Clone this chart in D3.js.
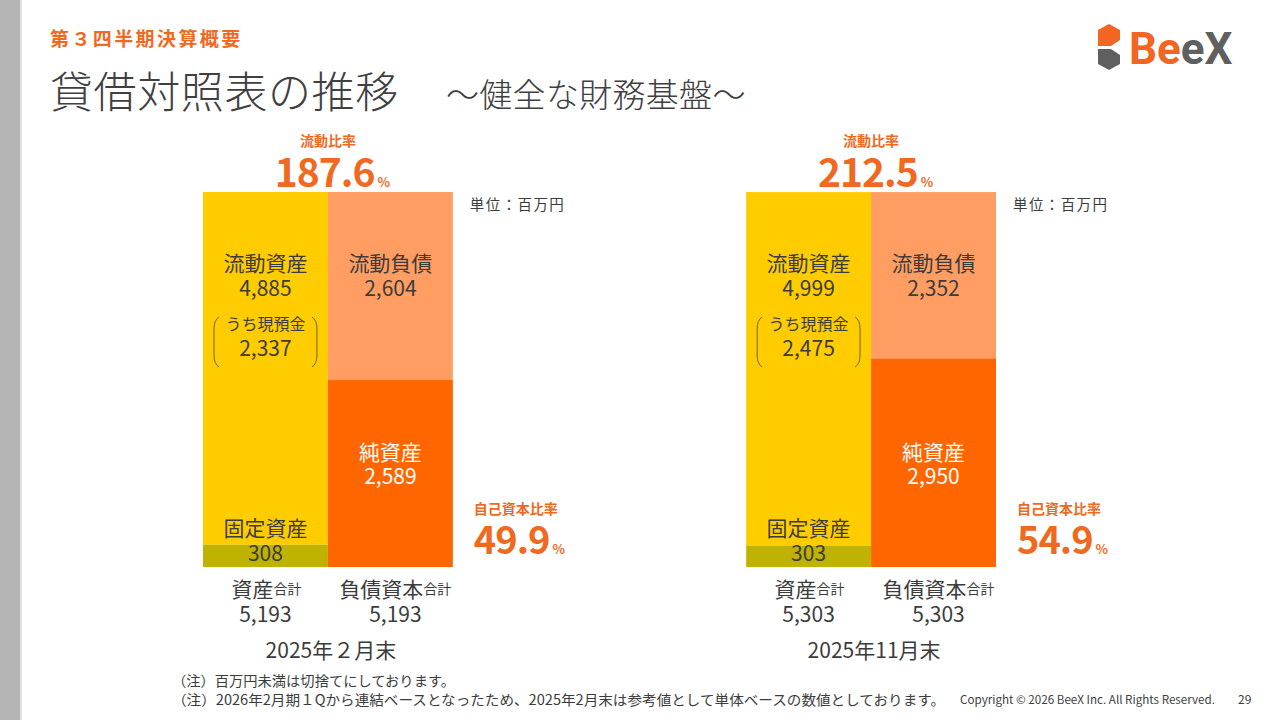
<!DOCTYPE html>
<html lang="ja">
<head>
<meta charset="utf-8">
<script src="https://cdn.jsdelivr.net/npm/d3@7/dist/d3.min.js"></script>
<style>
  html, body { margin: 0; padding: 0; background: #fff; }
  svg { display: block; font-family: "Noto Sans CJK JP", "Noto Sans", sans-serif; }
</style>
</head>
<body>
<svg id="chart" width="1280" height="720"></svg>
<script>
// data (millions of yen)
const periods = ["2025年２月末", "2025年11月末"];
const currentAssets = [4885, 4999];
const cashDeposits = [2337, 2475];
const fixedAssets = [308, 303];
const currentLiabilities = [2604, 2352];
const netAssets = [2589, 2950];
const totals = [5193, 5303];
const currentRatio = [187.6, 212.5];
const equityRatio = [49.9, 54.9];

const orange = "#F0691E";
const textDark = "#3c3c3c";
const colors = {
    current: "#FFCC00",
    fixed: "#BFB200",
    liab: "#FF9D63",
    net: "#FF6600"
};

const width = 1280;
const height = 720;
const barTop = 192;
const barBottom = 567;

const svg = d3.select("#chart")
    .attr("viewBox", [0, 0, width, height]);

svg.append("rect").attr("width", width).attr("height", height).attr("fill", "#ffffff");
svg.append("rect").attr("x", 0).attr("y", 0).attr("width", 20).attr("height", height).attr("fill", "#b4b4b4");
svg.append("rect").attr("x", 20).attr("y", 0).attr("width", 2).attr("height", height).attr("fill", "#e2e2e2");

// header
svg.append("text")
    .attr("x", 50).attr("y", 37)
    .attr("dominant-baseline", "central")
    .attr("font-size", 19).attr("font-weight", 700)
    .attr("letter-spacing", 2.4)
    .attr("fill", orange)
    .text("第３四半期決算概要");

svg.append("text")
    .attr("x", 50).attr("y", 89)
    .attr("dominant-baseline", "central")
    .attr("font-size", 43).attr("font-weight", 300)
    .attr("letter-spacing", 0.6)
    .attr("fill", "#404040")
    .text("貸借対照表の推移");

svg.append("text")
    .attr("x", 446).attr("y", 93)
    .attr("dominant-baseline", "central")
    .attr("font-size", 33).attr("font-weight", 300)
    .attr("letter-spacing", 0.3)
    .attr("fill", "#404040")
    .text("～健全な財務基盤～");

// logo
const logo = svg.append("g");
logo.append("path")
    .attr("d", "M1098,30 L1109,24 L1120,30 L1120,40 L1111,46 L1098,46 Z")
    .attr("fill", "#F26522");
logo.append("path")
    .attr("d", "M1098,49 L1111,49 L1120,55 L1120,64 L1109,70 L1098,64 Z")
    .attr("fill", "#5f5f5f");
const logoText = logo.append("text")
    .attr("x", 1129).attr("y", 64)
    .attr("font-family", "Roboto, Arial, sans-serif")
    .attr("font-size", 44).attr("font-weight", 700);
logoText.append("tspan").attr("fill", "#F26522").text("Be");
logoText.append("tspan").attr("fill", "#5f5f5f").text("eX");

// layout scales
const xPeriod = d3.scaleBand()
    .domain(periods)
    .range([203, 996])
    .paddingInner(0.54)
    .paddingOuter(0);

const xSide = d3.scaleBand()
    .domain(["assets", "liab"])
    .range([0, xPeriod.bandwidth()]);

const bw = xSide.bandwidth();

periods.forEach((p, i) => {
    const g = svg.append("g").attr("transform", `translate(${xPeriod(p)},0)`);
    const y = d3.scaleLinear().domain([0, totals[i]]).range([barBottom, barTop]);

    const segs = [
        { side: "assets", y0: fixedAssets[i], y1: fixedAssets[i] + currentAssets[i], fill: colors.current },
        { side: "assets", y0: 0, y1: fixedAssets[i], fill: colors.fixed },
        { side: "liab", y0: netAssets[i], y1: netAssets[i] + currentLiabilities[i], fill: colors.liab },
        { side: "liab", y0: 0, y1: netAssets[i], fill: colors.net }
    ];

    g.selectAll("rect.seg")
        .data(segs)
        .join("rect")
        .attr("class", "seg")
        .attr("x", d => xSide(d.side))
        .attr("width", bw)
        .attr("y", d => y(d.y1))
        .attr("height", d => y(d.y0) - y(d.y1))
        .attr("fill", d => d.fill);

    const ax = xSide("assets") + bw / 2;
    const lx = xSide("liab") + bw / 2;

    const label = (x, yy, txt, size, fill, anchor) => g.append("text")
        .attr("x", x).attr("y", yy)
        .attr("text-anchor", anchor || "middle")
        .attr("dominant-baseline", "central")
        .attr("font-size", size)
        .attr("fill", fill)
        .text(txt);

    // assets side
    label(ax, barTop + 70, "流動資産", 21, textDark);
    label(ax, barTop + 95, d3.format(",")(currentAssets[i]), 21, textDark);
    label(ax, barTop + 131, "うち現預金", 16, textDark);
    label(ax, barTop + 155, d3.format(",")(cashDeposits[i]), 21, textDark);

    const bx0 = xSide("assets") + 11, bx1 = xSide("assets") + bw - 11;
    const by0 = barTop + 125, by1 = barTop + 175;
    g.append("path")
        .attr("d", `M${bx0 + 5},${by0} Q${bx0},${by0 + 3} ${bx0},${by0 + 12} L${bx0},${by1 - 12} Q${bx0},${by1 - 3} ${bx0 + 5},${by1}`)
        .attr("fill", "none").attr("stroke", "#6e6440").attr("stroke-width", 1);
    g.append("path")
        .attr("d", `M${bx1 - 5},${by0} Q${bx1},${by0 + 3} ${bx1},${by0 + 12} L${bx1},${by1 - 12} Q${bx1},${by1 - 3} ${bx1 - 5},${by1}`)
        .attr("fill", "none").attr("stroke", "#6e6440").attr("stroke-width", 1);

    label(ax, barBottom - 40, "固定資産", 21, textDark);
    label(ax, barBottom - 15, d3.format(",")(fixedAssets[i]), 21, textDark);

    // liabilities side
    label(lx, barTop + 70, "流動負債", 21, textDark);
    label(lx, barTop + 95, d3.format(",")(currentLiabilities[i]), 21, textDark);
    label(lx, barBottom - 116, "純資産", 21, "#ffffff");
    label(lx, barBottom - 92, d3.format(",")(netAssets[i]), 21, "#ffffff");

    // current ratio
    const cx = xPeriod.bandwidth() / 2;
    g.append("text")
        .attr("x", cx).attr("y", 140)
        .attr("text-anchor", "middle").attr("dominant-baseline", "central")
        .attr("font-size", 14).attr("font-weight", 700).attr("fill", orange)
        .text("流動比率");
    const cr = g.append("text")
        .attr("x", cx + 4).attr("y", 187)
        .attr("text-anchor", "middle")
        .attr("font-size", 39).attr("font-weight", 700)
        .attr("letter-spacing", -1).attr("fill", orange);
    cr.append("tspan").text(currentRatio[i].toFixed(1));
    cr.append("tspan").attr("font-size", 13).attr("dx", 3).text("%");

    // unit
    g.append("text")
        .attr("x", xPeriod.bandwidth() + 17).attr("y", 203)
        .attr("dominant-baseline", "central")
        .attr("font-size", 14.5).attr("letter-spacing", 1.4).attr("fill", textDark)
        .text("単位：百万円");

    // equity ratio
    const ex = xPeriod.bandwidth() + 21;
    g.append("text")
        .attr("x", ex).attr("y", 508)
        .attr("dominant-baseline", "central")
        .attr("font-size", 14).attr("font-weight", 700).attr("fill", orange)
        .text("自己資本比率");
    const er = g.append("text")
        .attr("x", ex).attr("y", 554)
        .attr("font-size", 38).attr("font-weight", 700)
        .attr("letter-spacing", -1).attr("fill", orange);
    er.append("tspan").text(equityRatio[i].toFixed(1));
    er.append("tspan").attr("font-size", 13).attr("dx", 3).text("%");

    // totals
    const t1 = g.append("text")
        .attr("x", ax + 1).attr("y", 588)
        .attr("text-anchor", "middle").attr("dominant-baseline", "central")
        .attr("font-size", 21).attr("fill", textDark);
    t1.append("tspan").text("資産");
    t1.append("tspan").attr("font-size", 14).text("合計");
    label(ax, 613, d3.format(",")(totals[i]), 21, textDark);

    const t2 = g.append("text")
        .attr("x", lx + 5).attr("y", 588)
        .attr("text-anchor", "middle").attr("dominant-baseline", "central")
        .attr("font-size", 21).attr("fill", textDark);
    t2.append("tspan").text("負債資本");
    t2.append("tspan").attr("font-size", 14).text("合計");
    label(lx + 5, 613, d3.format(",")(totals[i]), 21, textDark);

    label(cx + 3, 649, p, 21, textDark);
});

// footnotes
svg.append("text")
    .attr("x", 172).attr("y", 680)
    .attr("dominant-baseline", "central")
    .attr("font-size", 14).attr("fill", textDark)
    .attr("textLength", 283).attr("lengthAdjust", "spacingAndGlyphs")
    .text("（注）百万円未満は切捨てにしております。");
svg.append("text")
    .attr("x", 172).attr("y", 699)
    .attr("dominant-baseline", "central")
    .attr("font-size", 14).attr("fill", textDark)
    .attr("textLength", 773).attr("lengthAdjust", "spacingAndGlyphs")
    .text("（注）2026年2月期１Qから連結ベースとなったため、2025年2月末は参考値として単体ベースの数値としております。");
svg.append("text")
    .attr("x", 960).attr("y", 699)
    .attr("dominant-baseline", "central")
    .attr("font-size", 11.5).attr("fill", "#404040")
    .attr("textLength", 255).attr("lengthAdjust", "spacingAndGlyphs")
    .text("Copyright © 2026 BeeX Inc. All Rights Reserved.");
svg.append("text")
    .attr("x", 1238).attr("y", 698)
    .attr("dominant-baseline", "central")
    .attr("font-size", 12).attr("fill", "#404040")
    .text("29");
</script>
</body>
</html>
